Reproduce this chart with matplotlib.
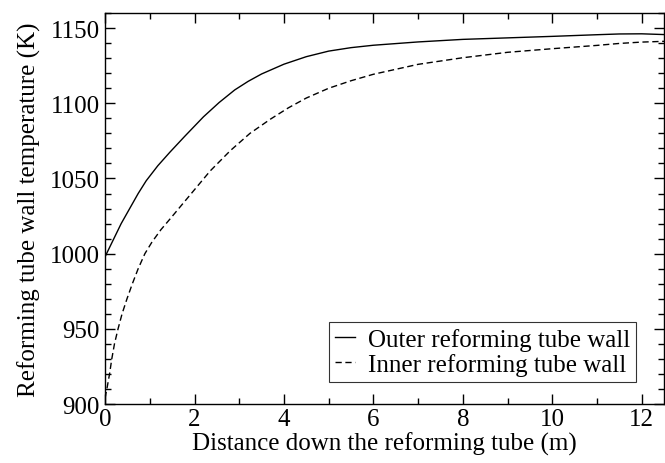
import matplotlib
matplotlib.use('Agg')
import matplotlib.pyplot as plt
from matplotlib.ticker import MultipleLocator

# outer wall temperature (K) vs distance (m)
outer_x = [0, 0.36, 0.74, 0.92, 1.18, 1.45, 1.78, 2.2, 2.55, 2.9, 3.2, 3.5, 4.0, 4.5,
           5.0, 5.5, 6.0, 7.0, 8.0, 9.0, 10.0, 11.0, 11.5, 12.0, 12.5]
outer_t = [998, 1020, 1040, 1048.5, 1058.5, 1067.5, 1078, 1091, 1100.5, 1108.9, 1114.6, 1119.5,
           1126, 1131, 1134.7, 1137, 1138.6, 1140.8, 1142.5, 1143.5, 1144.5, 1145.6, 1146.1,
           1146.2, 1145.7]

# inner wall temperature
inner_x = [0, 0.04, 0.1, 0.15, 0.21, 0.29, 0.38, 0.49, 0.61, 0.74, 0.89, 1.05, 1.25, 1.45,
           1.9, 2.35, 2.8, 3.24, 3.7, 4.1, 4.5, 5.0, 5.5, 6.0, 7.0, 8.0, 9.0, 10.0,
           11.0, 11.5, 12.0, 12.5]
inner_t = [904, 910, 920, 930, 940, 950, 960, 970, 980, 990, 1000, 1007.8, 1016, 1023,
           1039, 1055, 1068.5, 1080, 1089.5, 1097, 1103.5, 1110, 1115, 1119.3, 1125.9, 1130.3,
           1133.9, 1136.3, 1138.5, 1139.8, 1140.7, 1141.2]

plt.rcParams['font.family'] = ['Liberation Serif', 'DejaVu Serif']
plt.rcParams['font.size'] = 18

fig = plt.figure(figsize=(6.65, 4.64), dpi=100)
ax = fig.add_axes([0.158, 0.127, 0.8406, 0.8427])

ax.plot(outer_x, outer_t, color='black', lw=1.0, label='Outer reforming tube wall')
ax.plot(inner_x, inner_t, color='black', lw=1.0, dashes=(4.5, 2.6), label='Inner reforming tube wall')

ax.set_xlim(0, 12.5)
ax.set_ylim(900, 1160)
ax.xaxis.set_major_locator(MultipleLocator(2))
ax.xaxis.set_minor_locator(MultipleLocator(1))
ax.yaxis.set_major_locator(MultipleLocator(50))
ax.yaxis.set_minor_locator(MultipleLocator(10))
ax.tick_params(which='both', direction='in', top=True, right=True, width=1)
ax.tick_params(which='major', length=7)
ax.tick_params(which='minor', length=4)
ax.tick_params(axis='x', pad=3)
ax.tick_params(axis='y', pad=4)
for s in ax.spines.values():
    s.set_linewidth(1)

ax.set_xlabel('Distance down the reforming tube (m)', labelpad=1)
ax.set_ylabel('Reforming tube wall temperature (K)', labelpad=6)

leg = ax.legend(loc='lower right', bbox_to_anchor=(0.95, 0.056), frameon=True, fancybox=False,
                edgecolor='black', handlelength=0.8, handletextpad=0.5, borderpad=0.25,
                labelspacing=0.08, borderaxespad=0)
leg.get_frame().set_linewidth(0.8)

fig.savefig('out.png', dpi=100)
